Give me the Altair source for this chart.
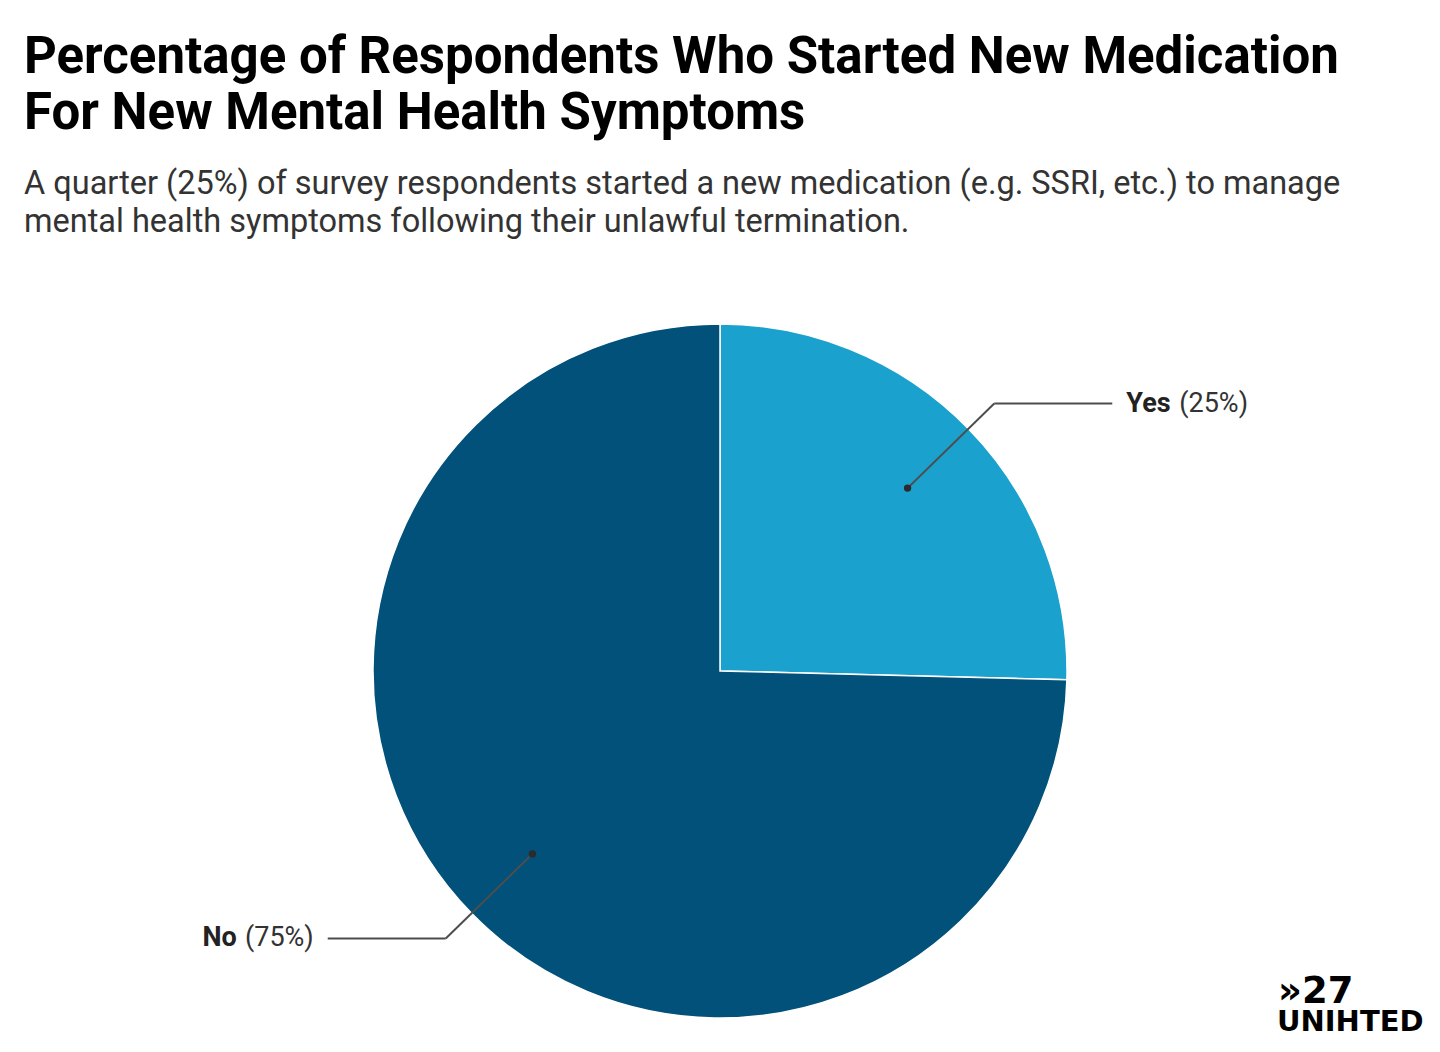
import altair as alt
import pandas as pd

# ---- data ----
categories = ["Yes", "No"]
values = [25.4, 74.6]
pct_labels = ["(25%)", "(75%)"]
order_idx = [0, 1]
colors = ["#1ba1ce", "#02517a"]

title_lines = [
    "Percentage of Respondents Who Started New Medication",
    "For New Mental Health Symptoms",
]
subtitle_lines = [
    "A quarter (25%) of survey respondents started a new medication (e.g. SSRI, etc.) to manage",
    "mental health symptoms following their unlawful termination.",
]
logo_top = ["»27"]
logo_bottom = ["UNIHTED"]

# ---- layout constants ----
R = 347          # pie radius (px)
W = 1424
H = 746
PAD_TOP = 290
DOT_F = 0.755    # dot position as fraction of radius
ELB_F = 1.104    # elbow position as fraction of radius
HLEN = 118       # horizontal leader length
GAP = 14

df = pd.DataFrame({"cat": categories, "value": values, "pct": pct_labels, "idx": order_idx})
base = alt.Chart(df)

pie = base.mark_arc(radius=R, stroke="white", strokeWidth=1.5).encode(
    theta=alt.Theta("value:Q", stack=True),
    color=alt.Color("cat:N", scale=alt.Scale(domain=categories, range=colors), legend=None),
    order=alt.Order("idx:Q"),
)

geo = (
    base.transform_window(cum="sum(value)", sort=[alt.SortField("idx")])
    .transform_joinaggregate(total="sum(value)")
    .transform_calculate(mid="2*PI*(datum.cum - datum.value/2)/datum.total")
    .transform_calculate(side="sin(datum.mid) >= 0 ? 1 : -1")
    .transform_calculate(
        px=f"{DOT_F * R}*sin(datum.mid)",
        py=f"{DOT_F * R}*cos(datum.mid)",
        ex=f"{ELB_F * R}*sin(datum.mid)",
        ey=f"{ELB_F * R}*cos(datum.mid)",
    )
    .transform_calculate(hx=f"datum.ex + datum.side*{HLEN}")
    .transform_calculate(lx=f"datum.hx + datum.side*{GAP}")
)

xs = alt.Scale(domain=[-W / 2, W / 2], nice=False, zero=False)
ys = alt.Scale(domain=[-H / 2, H / 2], nice=False, zero=False)

line_color = "#4d4d4d"
rule1 = geo.mark_rule(color=line_color, strokeWidth=2).encode(
    x=alt.X("px:Q", scale=xs, axis=None),
    y=alt.Y("py:Q", scale=ys, axis=None),
    x2="ex:Q",
    y2="ey:Q",
)
rule2 = geo.mark_rule(color=line_color, strokeWidth=2).encode(
    x=alt.X("ex:Q", scale=xs, axis=None),
    y=alt.Y("ey:Q", scale=ys, axis=None),
    x2="hx:Q",
)
dots = geo.mark_circle(size=55, color="#2b2b2b", opacity=1).encode(
    x=alt.X("px:Q", scale=xs, axis=None),
    y=alt.Y("py:Q", scale=ys, axis=None),
)

LFS = 27
right = geo.transform_filter("datum.side > 0")
left = geo.transform_filter("datum.side < 0")

r_name = right.mark_text(align="left", baseline="middle", font="Roboto", fontWeight="bold",
                         fontSize=LFS, color="#222").encode(
    x=alt.X("lx:Q", scale=xs, axis=None), y=alt.Y("ey:Q", scale=ys, axis=None), text="cat:N")
r_pct = right.mark_text(align="left", baseline="middle", font="Roboto", fontSize=LFS,
                        color="#333", dx=53).encode(
    x=alt.X("lx:Q", scale=xs, axis=None), y=alt.Y("ey:Q", scale=ys, axis=None), text="pct:N")
l_pct = left.mark_text(align="right", baseline="middle", font="Roboto", fontSize=LFS,
                       color="#333").encode(
    x=alt.X("lx:Q", scale=xs, axis=None), y=alt.Y("ey:Q", scale=ys, axis=None), text="pct:N")
l_name = left.mark_text(align="right", baseline="middle", font="Roboto", fontWeight="bold",
                        fontSize=LFS, color="#222", dx=-77).encode(
    x=alt.X("lx:Q", scale=xs, axis=None), y=alt.Y("ey:Q", scale=ys, axis=None), text="cat:N")

logo1 = alt.Chart(pd.DataFrame({"t": logo_top})).mark_text(
    align="left", baseline="alphabetic", font="DejaVu Sans", fontWeight="bold", fontSize=37, color="#000"
).encode(x=alt.value(1270), y=alt.value(705), text="t:N")
logo2 = alt.Chart(pd.DataFrame({"t": logo_bottom})).mark_text(
    align="left", baseline="alphabetic", font="DejaVu Sans", fontWeight="bold", fontSize=29, color="#000"
).encode(x=alt.value(1269), y=alt.value(733), text="t:N")

chart = (
    alt.layer(pie, rule1, rule2, dots, r_name, r_pct, l_pct, l_name, logo1, logo2)
    .properties(
        width=W,
        height=H,
        autosize="none",
        padding={"left": 0, "top": PAD_TOP, "right": 0, "bottom": 0},
        background="white",
        title=alt.TitleParams(
            text=title_lines,
            subtitle=subtitle_lines,
            anchor="start",
            frame="group",
            dx=16,
            offset=59,
            font="Roboto",
            fontSize=51,
            fontWeight="bold",
            color="#000",
            lineHeight=56,
            subtitleFont="Roboto",
            subtitleFontSize=32.5,
            subtitleColor="#333",
            subtitleLineHeight=38,
            subtitlePadding=28,
        ),
    )
    .configure_view(stroke=None)
)

chart.save("out.html", embed_options={"renderer": "svg", "actions": False})
